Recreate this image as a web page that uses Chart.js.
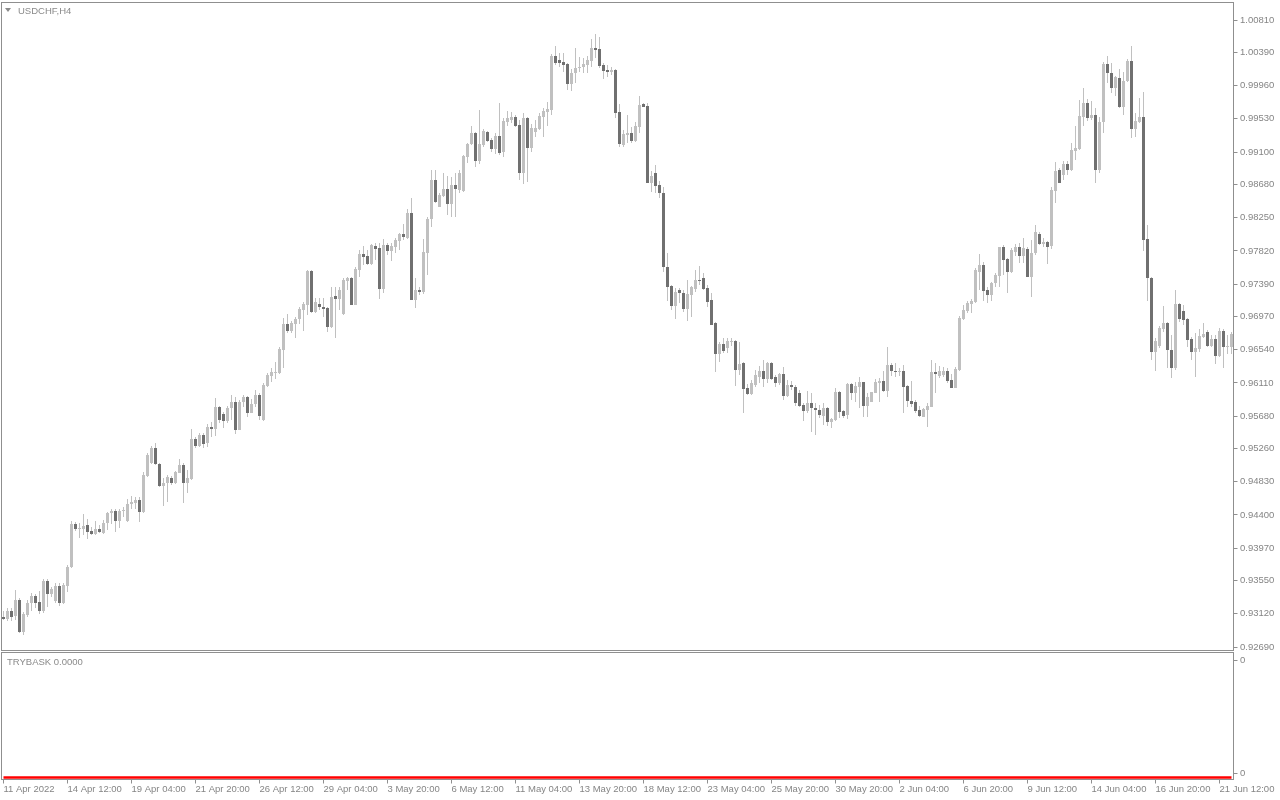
<!DOCTYPE html>
<html>
<head>
<meta charset="utf-8">
<title>USDCHF,H4</title>
<script src="https://cdn.jsdelivr.net/npm/chart.js@4.4.1/dist/chart.umd.min.js"></script>
<style>
  html, body { margin: 0; padding: 0; background: #fff; }
  body { width: 1280px; height: 800px; position: relative; overflow: hidden; font-family: 'Liberation Sans', Arial, sans-serif; }
  canvas { position: absolute; left: 0; }
  #main { top: 0; }
  #sub { top: 651px; }
  .label { position: absolute; color: #8a8a8a; font-size: 9.5px; line-height: 11px; white-space: nowrap; }
  #symbol { left: 18px; top: 4.5px; }
  #indicator { left: 7px; top: 656px; }
  #arrow { position: absolute; left: 5px; top: 8px; width: 0; height: 0;
           border-left: 3px solid transparent; border-right: 3px solid transparent; border-top: 4px solid #8a8a8a; }
</style>
</head>
<body>
<canvas id="main" width="1280" height="651"></canvas>
<canvas id="sub" width="1280" height="149"></canvas>
<div id="arrow"></div>
<div class="label" id="symbol">USDCHF,H4</div>
<div class="label" id="indicator">TRYBASK 0.0000</div>
<script>
// USDCHF H4 candles, 11 Apr 2022 .. 21 Jun 2022
const openPrices = [
  0.93078, 0.93052, 0.93156, 0.93091, 0.93299, 0.92884, 0.93104, 0.93260, 0.93350, 0.93273,
  0.93156, 0.93545, 0.93376, 0.93286, 0.93480, 0.93260, 0.93480, 0.93726, 0.94283, 0.94218,
  0.94218, 0.94270, 0.94192, 0.94153, 0.94218, 0.94166, 0.94296, 0.94425, 0.94451, 0.94322,
  0.94451, 0.94322, 0.94542, 0.94555, 0.94594, 0.94438, 0.94904, 0.95073, 0.95267, 0.95060,
  0.94775, 0.94814, 0.94878, 0.94814, 0.94943, 0.95047, 0.94814, 0.94865, 0.95383, 0.95293,
  0.95435, 0.95332, 0.95539, 0.95513, 0.95798, 0.95707, 0.95617, 0.95785, 0.95863, 0.95500,
  0.95863, 0.95927, 0.95720, 0.95837, 0.95953, 0.95630, 0.96070, 0.96199, 0.96238, 0.96238,
  0.96536, 0.96873, 0.96782, 0.96873, 0.96938, 0.97054, 0.97119, 0.97559, 0.97028, 0.97132,
  0.97093, 0.97080, 0.96834, 0.97236, 0.97197, 0.97002, 0.97430, 0.97469, 0.97119, 0.97572,
  0.97779, 0.97754, 0.97650, 0.97883, 0.97857, 0.97326, 0.97896, 0.97818, 0.97870, 0.97948,
  0.98038, 0.97987, 0.98310, 0.97184, 0.97313, 0.97287, 0.97792, 0.98233, 0.98738, 0.98388,
  0.98530, 0.98621, 0.98427, 0.98673, 0.98608, 0.98595, 0.99035, 0.99204, 0.99346, 0.98984,
  0.99191, 0.99359, 0.99256, 0.99139, 0.99308, 0.99100, 0.99489, 0.99515, 0.99554, 0.99450,
  0.98828, 0.99541, 0.99152, 0.99359, 0.99398, 0.99554, 0.99618, 0.99644, 1.00344, 1.00292,
  1.00266, 1.00240, 0.99981, 1.00123, 1.00188, 1.00201, 1.00227, 1.00279, 1.00447, 1.00434,
  1.00227, 1.00162, 1.00136, 1.00162, 0.99618, 0.99191, 0.99320, 0.99346, 0.99243, 0.99424,
  0.99722, 0.99696, 0.98699, 0.98828, 0.98673, 0.98569, 0.97611, 0.97365, 0.97106, 0.97313,
  0.97274, 0.97067, 0.97249, 0.97326, 0.97443, 0.97469, 0.97339, 0.97184, 0.96886, 0.96484,
  0.96614, 0.96562, 0.96640, 0.96653, 0.96277, 0.96368, 0.96044, 0.95966, 0.96083, 0.96186,
  0.96264, 0.96161, 0.96368, 0.96186, 0.96109, 0.96225, 0.95940, 0.96083, 0.96057, 0.95979,
  0.95824, 0.95746, 0.95850, 0.95785, 0.95759, 0.95681, 0.95785, 0.95604, 0.95630, 0.95992,
  0.95746, 0.95694, 0.96096, 0.95979, 0.96057, 0.96122, 0.95811, 0.95863, 0.95979, 0.96109,
  0.96135, 0.96005, 0.96342, 0.96264, 0.96251, 0.96264, 0.96070, 0.95876, 0.95863, 0.95759,
  0.95669, 0.95759, 0.95798, 0.96251, 0.96199, 0.96212, 0.96264, 0.96148, 0.96044, 0.96277,
  0.96938, 0.97041, 0.97132, 0.97158, 0.97546, 0.97637, 0.97313, 0.97249, 0.97404, 0.97494,
  0.97870, 0.97715, 0.97546, 0.97805, 0.97870, 0.97754, 0.97844, 0.97482, 0.97792, 0.98038,
  0.97909, 0.97935, 0.97883, 0.98595, 0.98867, 0.98802, 0.98945, 0.98867, 0.99113, 0.99139,
  0.99554, 0.99735, 0.99541, 0.99580, 0.98867, 0.99489, 1.00240, 1.00123, 0.99929, 1.00059,
  0.99683, 1.00020, 1.00279, 0.99398, 0.99489, 0.99554, 0.97974, 0.97469, 0.96510, 0.96588,
  0.96808, 0.96886, 0.96536, 0.96303, 0.97132, 0.97041, 0.96938, 0.96679, 0.96510, 0.96549,
  0.96704, 0.96769, 0.96588, 0.96679, 0.96458, 0.96782, 0.96575, 0.96575
];
const highPrices = [
  0.93156, 0.93195, 0.93195, 0.93428, 0.93324, 0.93143, 0.93299, 0.93389, 0.93376, 0.93415,
  0.93570, 0.93570, 0.93467, 0.93519, 0.93519, 0.93519, 0.93752, 0.94322, 0.94309, 0.94296,
  0.94412, 0.94347, 0.94244, 0.94322, 0.94270, 0.94335, 0.94438, 0.94477, 0.94477, 0.94477,
  0.94503, 0.94606, 0.94645, 0.94632, 0.94632, 0.94956, 0.95202, 0.95293, 0.95332, 0.95073,
  0.94878, 0.94917, 0.94904, 0.94969, 0.95124, 0.95073, 0.94982, 0.95513, 0.95409, 0.95461,
  0.95461, 0.95578, 0.95604, 0.95914, 0.95811, 0.95733, 0.95811, 0.95953, 0.95927, 0.95889,
  0.95953, 0.95940, 0.95901, 0.96018, 0.95979, 0.96109, 0.96238, 0.96303, 0.96381, 0.96575,
  0.96951, 0.97002, 0.96912, 0.96964, 0.97093, 0.97158, 0.97572, 0.97572, 0.97210, 0.97210,
  0.97210, 0.97093, 0.97352, 0.97352, 0.97352, 0.97469, 0.97482, 0.97482, 0.97611, 0.97831,
  0.97883, 0.97831, 0.97909, 0.97922, 0.97922, 0.97974, 0.97922, 0.97922, 0.97987, 0.98051,
  0.98168, 0.98362, 0.98505, 0.97469, 0.97352, 0.97974, 0.98259, 0.98867, 0.98867, 0.98569,
  0.98828, 0.98789, 0.98776, 0.98828, 0.98867, 0.99061, 0.99217, 0.99437, 0.99359, 0.99644,
  0.99398, 0.99372, 0.99282, 0.99346, 0.99735, 0.99541, 0.99631, 0.99618, 0.99580, 0.99515,
  0.99605, 0.99554, 0.99463, 0.99515, 0.99605, 0.99670, 0.99748, 1.00370, 1.00473, 1.00383,
  1.00383, 1.00253, 1.00175, 1.00447, 1.00330, 1.00318, 1.00344, 1.00564, 1.00629, 1.00590,
  1.00253, 1.00227, 1.00201, 1.00175, 0.99722, 0.99385, 0.99580, 0.99424, 0.99489, 0.99826,
  0.99735, 0.99735, 0.98854, 0.98932, 0.98725, 0.98647, 0.97792, 0.97378, 0.97339, 0.97339,
  0.97313, 0.97443, 0.97365, 0.97572, 0.97624, 0.97533, 0.97378, 0.97274, 0.96899, 0.96640,
  0.96691, 0.96691, 0.96691, 0.96666, 0.96640, 0.96381, 0.96096, 0.96148, 0.96277, 0.96329,
  0.96407, 0.96381, 0.96381, 0.96212, 0.96238, 0.96316, 0.96148, 0.96135, 0.96083, 0.96018,
  0.95850, 0.96005, 0.95979, 0.95850, 0.95824, 0.95850, 0.95798, 0.95656, 0.96044, 0.96005,
  0.95759, 0.96109, 0.96109, 0.96122, 0.96186, 0.96122, 0.95979, 0.95992, 0.96161, 0.96174,
  0.96264, 0.96575, 0.96368, 0.96368, 0.96303, 0.96342, 0.96083, 0.96135, 0.95889, 0.95811,
  0.95785, 0.95850, 0.96407, 0.96368, 0.96329, 0.96316, 0.96303, 0.96225, 0.96316, 0.96977,
  0.97119, 0.97171, 0.97197, 0.97598, 0.97779, 0.97676, 0.97352, 0.97417, 0.97533, 0.97870,
  0.97896, 0.97728, 0.97857, 0.97909, 0.97922, 0.97987, 0.97870, 0.97961, 0.98155, 0.98064,
  0.97987, 0.97948, 0.98647, 0.98971, 0.98893, 0.98984, 0.98984, 0.99217, 0.99437, 0.99774,
  0.99929, 0.99787, 0.99761, 0.99670, 0.99554, 1.00266, 1.00344, 1.00253, 1.00085, 1.00175,
  1.00136, 1.00305, 1.00473, 0.99605, 0.99800, 0.99877, 0.98155, 0.97482, 0.96691, 0.96847,
  0.97106, 0.96899, 0.96730, 0.97313, 0.97145, 0.97119, 0.96951, 0.96704, 0.96756, 0.96808,
  0.96886, 0.96795, 0.96730, 0.96730, 0.96821, 0.96808, 0.96730, 0.96769
];
const lowPrices = [
  0.93040, 0.93027, 0.93027, 0.93040, 0.92871, 0.92845, 0.93078, 0.93156, 0.93195, 0.93117,
  0.93130, 0.93208, 0.93337, 0.93260, 0.93221, 0.93247, 0.93402, 0.93713, 0.94192, 0.94101,
  0.94140, 0.94088, 0.94140, 0.94140, 0.94166, 0.94153, 0.94205, 0.94283, 0.94179, 0.94231,
  0.94374, 0.94309, 0.94477, 0.94477, 0.94309, 0.94425, 0.94891, 0.95060, 0.95047, 0.94762,
  0.94516, 0.94568, 0.94788, 0.94801, 0.94943, 0.94555, 0.94684, 0.94853, 0.95267, 0.95280,
  0.95267, 0.95280, 0.95409, 0.95422, 0.95591, 0.95526, 0.95591, 0.95630, 0.95448, 0.95500,
  0.95798, 0.95669, 0.95720, 0.95798, 0.95630, 0.95617, 0.96057, 0.96122, 0.96161, 0.96225,
  0.96303, 0.96756, 0.96756, 0.96691, 0.96873, 0.96782, 0.96989, 0.97015, 0.97015, 0.97054,
  0.96964, 0.96769, 0.96821, 0.96691, 0.97054, 0.96989, 0.97313, 0.97119, 0.97119, 0.97482,
  0.97637, 0.97637, 0.97637, 0.97702, 0.97197, 0.97274, 0.97766, 0.97689, 0.97792, 0.97831,
  0.97961, 0.97974, 0.97184, 0.97080, 0.97249, 0.97262, 0.97507, 0.98129, 0.98440, 0.98388,
  0.98517, 0.98284, 0.98259, 0.98259, 0.98569, 0.98582, 0.98958, 0.99191, 0.98906, 0.98945,
  0.99165, 0.99230, 0.99100, 0.99074, 0.99061, 0.99035, 0.99437, 0.99476, 0.99424, 0.98738,
  0.98686, 0.98712, 0.99100, 0.99295, 0.99385, 0.99295, 0.99437, 0.99580, 1.00227, 1.00201,
  1.00136, 0.99903, 0.99890, 0.99994, 1.00136, 1.00123, 1.00123, 1.00201, 1.00318, 1.00188,
  1.00046, 1.00071, 1.00097, 0.99541, 0.99165, 0.99165, 0.99217, 0.99217, 0.99230, 0.99346,
  0.99683, 0.98699, 0.98582, 0.98569, 0.98505, 0.97546, 0.97171, 0.97054, 0.96938, 0.97145,
  0.97028, 0.96912, 0.96964, 0.97287, 0.97378, 0.97313, 0.97093, 0.96860, 0.96251, 0.96381,
  0.96497, 0.96497, 0.96588, 0.96070, 0.96212, 0.95720, 0.95953, 0.95953, 0.96057, 0.96109,
  0.96057, 0.96109, 0.96148, 0.96057, 0.96083, 0.95889, 0.95927, 0.96018, 0.95811, 0.95798,
  0.95617, 0.95720, 0.95474, 0.95435, 0.95656, 0.95565, 0.95552, 0.95526, 0.95617, 0.95656,
  0.95656, 0.95643, 0.95889, 0.95863, 0.95785, 0.95669, 0.95669, 0.95863, 0.95979, 0.95863,
  0.95992, 0.95927, 0.96199, 0.96186, 0.96199, 0.95720, 0.95798, 0.95798, 0.95720, 0.95669,
  0.95669, 0.95539, 0.95798, 0.95979, 0.96174, 0.96186, 0.96109, 0.96044, 0.96044, 0.96264,
  0.96925, 0.97015, 0.97015, 0.97145, 0.97313, 0.97171, 0.97145, 0.97171, 0.97352, 0.97352,
  0.97507, 0.97274, 0.97533, 0.97754, 0.97663, 0.97663, 0.97482, 0.97223, 0.97766, 0.97896,
  0.97870, 0.97650, 0.97844, 0.98440, 0.98699, 0.98738, 0.98802, 0.98854, 0.98997, 0.99126,
  0.99437, 0.99502, 0.99515, 0.98699, 0.98828, 0.99346, 0.99994, 0.99864, 0.99826, 0.99670,
  0.99580, 1.00007, 0.99282, 0.99295, 0.99476, 0.97818, 0.97171, 0.96407, 0.96264, 0.96562,
  0.96769, 0.96303, 0.96174, 0.96277, 0.96899, 0.96860, 0.96575, 0.96407, 0.96186, 0.96510,
  0.96691, 0.96575, 0.96575, 0.96355, 0.96445, 0.96303, 0.96484, 0.96484
];
const closePrices = [
  0.93052, 0.93156, 0.93078, 0.93299, 0.92884, 0.93117, 0.93260, 0.93350, 0.93260, 0.93156,
  0.93545, 0.93376, 0.93441, 0.93480, 0.93260, 0.93493, 0.93726, 0.94283, 0.94218, 0.94231,
  0.94257, 0.94179, 0.94153, 0.94218, 0.94179, 0.94296, 0.94425, 0.94451, 0.94322, 0.94451,
  0.94464, 0.94542, 0.94568, 0.94594, 0.94438, 0.94917, 0.95176, 0.95267, 0.95060, 0.94775,
  0.94814, 0.94891, 0.94814, 0.94956, 0.95047, 0.94814, 0.94878, 0.95383, 0.95293, 0.95435,
  0.95319, 0.95539, 0.95513, 0.95798, 0.95630, 0.95617, 0.95785, 0.95863, 0.95500, 0.95863,
  0.95927, 0.95720, 0.95837, 0.95953, 0.95681, 0.96083, 0.96212, 0.96251, 0.96251, 0.96549,
  0.96873, 0.96782, 0.96886, 0.96938, 0.97067, 0.97132, 0.97559, 0.97028, 0.97158, 0.97093,
  0.97067, 0.96834, 0.97223, 0.97197, 0.97313, 0.97443, 0.97469, 0.97119, 0.97585, 0.97779,
  0.97741, 0.97650, 0.97896, 0.97844, 0.97326, 0.97896, 0.97818, 0.97883, 0.97961, 0.98038,
  0.97999, 0.98310, 0.97184, 0.97313, 0.97287, 0.97805, 0.98233, 0.98738, 0.98453, 0.98543,
  0.98621, 0.98427, 0.98673, 0.98621, 0.98828, 0.99048, 0.99204, 0.99346, 0.98984, 0.99204,
  0.99372, 0.99243, 0.99139, 0.99308, 0.99087, 0.99502, 0.99541, 0.99554, 0.99437, 0.98828,
  0.99541, 0.99152, 0.99411, 0.99411, 0.99567, 0.99631, 0.99657, 1.00344, 1.00253, 1.00253,
  1.00227, 0.99981, 1.00123, 1.00188, 1.00201, 1.00240, 1.00292, 1.00447, 1.00421, 1.00214,
  1.00149, 1.00136, 1.00162, 0.99605, 0.99204, 0.99333, 0.99346, 0.99243, 0.99437, 0.99709,
  0.99683, 0.98699, 0.98790, 0.98660, 0.98569, 0.97611, 0.97352, 0.97106, 0.97287, 0.97274,
  0.97067, 0.97262, 0.97352, 0.97443, 0.97430, 0.97326, 0.97158, 0.96860, 0.96484, 0.96614,
  0.96523, 0.96653, 0.96653, 0.96277, 0.96355, 0.96031, 0.95966, 0.96109, 0.96212, 0.96264,
  0.96161, 0.96368, 0.96161, 0.96109, 0.96225, 0.95940, 0.96083, 0.96057, 0.95850, 0.95811,
  0.95746, 0.95850, 0.95785, 0.95759, 0.95694, 0.95785, 0.95604, 0.95643, 0.95992, 0.95733,
  0.95681, 0.96096, 0.95979, 0.96070, 0.96122, 0.95811, 0.95927, 0.95992, 0.96122, 0.96135,
  0.96005, 0.96342, 0.96264, 0.96251, 0.96264, 0.96057, 0.95876, 0.95837, 0.95746, 0.95681,
  0.95772, 0.95811, 0.96251, 0.96225, 0.96264, 0.96264, 0.96135, 0.96044, 0.96290, 0.96951,
  0.97054, 0.97145, 0.97171, 0.97572, 0.97637, 0.97300, 0.97249, 0.97404, 0.97507, 0.97870,
  0.97702, 0.97546, 0.97831, 0.97870, 0.97754, 0.97857, 0.97482, 0.97792, 0.98064, 0.97909,
  0.97935, 0.97870, 0.98608, 0.98854, 0.98699, 0.98945, 0.98867, 0.99126, 0.99152, 0.99567,
  0.99735, 0.99541, 0.99580, 0.98867, 0.99489, 1.00240, 1.00123, 0.99929, 1.00072, 0.99683,
  1.00020, 1.00279, 0.99398, 0.99502, 0.99554, 0.97961, 0.97469, 0.96510, 0.96653, 0.96821,
  0.96886, 0.96536, 0.96303, 0.97132, 0.96938, 0.96925, 0.96666, 0.96510, 0.96562, 0.96717,
  0.96743, 0.96588, 0.96679, 0.96458, 0.96782, 0.96575, 0.96588, 0.96743
];
// TRYBASK indicator pane: flat at zero over every bar
const trybask = [
  0,0,0,0, 0,0,0,0, 0,0,0,0, 0,0,0,0, 0,0,0,0, 0,0,0,0, 0,0,0,0,
  0,0,0,0, 0,0,0,0, 0,0,0,0, 0,0,0,0, 0,0,0,0, 0,0,0,0, 0,0,0,0,
  0,0,0,0, 0,0,0,0, 0,0,0,0, 0,0,0,0, 0,0,0,0, 0,0,0,0, 0,0,0,0,
  0,0,0,0, 0,0,0,0, 0,0,0,0, 0,0,0,0, 0,0,0,0, 0,0,0,0, 0,0,0,0,
  0,0,0,0, 0,0,0,0, 0,0,0,0, 0,0,0,0, 0,0,0,0, 0,0,0,0, 0,0,0,0,
  0,0,0,0, 0,0,0,0, 0,0,0,0, 0,0,0,0, 0,0,0,0, 0,0,0,0, 0,0,0,0,
  0,0,0,0, 0,0,0,0, 0,0,0,0, 0,0,0,0, 0,0,0,0, 0,0,0,0, 0,0,0,0,
  0,0,0,0, 0,0,0,0, 0,0,0,0, 0,0,0,0, 0,0,0,0, 0,0,0,0, 0,0,0,0,
  0,0,0,0, 0,0,0,0, 0,0,0,0, 0,0,0,0, 0,0,0,0, 0,0,0,0, 0,0,0,0,
  0,0,0,0, 0,0,0,0, 0,0,0,0, 0,0,0,0, 0,0,0,0, 0,0,0,0, 0,0,0,0,
  0,0,0,0, 0,0,0,0, 0,0,0,0, 0,0,0,0, 0,0,0,0, 0,0,0,0, 0,0,0,0
];
const priceTicks = [1.00810, 1.00390, 0.99960, 0.99530, 0.99100, 0.98680, 0.98250, 0.97820, 0.97390, 0.96970,
                    0.96540, 0.96110, 0.95680, 0.95260, 0.94830, 0.94400, 0.93970, 0.93550, 0.93120, 0.92690];
const timeLabels = ['11 Apr 2022', '14 Apr 12:00', '19 Apr 04:00', '21 Apr 20:00', '26 Apr 12:00',
                    '29 Apr 04:00', '3 May 20:00', '6 May 12:00', '11 May 04:00', '13 May 20:00',
                    '18 May 12:00', '23 May 04:00', '25 May 20:00', '30 May 20:00', '2 Jun 04:00',
                    '6 Jun 20:00', '9 Jun 12:00', '14 Jun 04:00', '16 Jun 20:00', '21 Jun 12:00'];
const barsPerLabel = 16;

const bullColor = '#c0c0c0';
const bearColor = '#707070';
const wickColor = '#c0c0c0';
const frameColor = '#8f8f8f';
const textColor = '#858585';
const axisFont = { family: "'Liberation Sans', Arial, sans-serif", size: 9.5 };

const barLabels = openPrices.map((_, i) => i);
const bodies = openPrices.map((o, i) => [o, closePrices[i]]);
const wicks = lowPrices.map((l, i) => [l, highPrices[i]]);
const bodyColors = openPrices.map((o, i) => closePrices[i] >= o ? bullColor : bearColor);

// frame around each pane's plot area
const paneFrame = {
    id: 'paneFrame',
    afterDraw(chart) {
        const { ctx, chartArea: a } = chart;
        ctx.save();
        ctx.strokeStyle = frameColor;
        ctx.lineWidth = 1;
        ctx.strokeRect(a.left, a.top, a.right - a.left, a.bottom - a.top);
        ctx.restore();
    }
};

// no label overhang padding, the panes sit flush like the terminal does
const noOverhang = s => {
    s.paddingTop = 0; s.paddingBottom = 0; s.paddingLeft = 0; s.paddingRight = 0;
};

const rightAxis = (extra) => Object.assign({
    position: 'right',
    afterFit: s => { s.width = 46.5; noOverhang(s); },
    grid: { display: true, drawOnChartArea: false, drawTicks: true, tickLength: 4, color: frameColor },
    border: { display: false },
}, extra);

// price pane
new Chart(document.getElementById('main'), {
    type: 'bar',
    data: {
        labels: barLabels,
        datasets: [
            { data: bodies, backgroundColor: bodyColors, barThickness: 3, minBarLength: 1,
              grouped: false, inflateAmount: 0, borderWidth: 0 },
            { data: wicks, backgroundColor: wickColor, barThickness: 1,
              grouped: false, inflateAmount: 0, borderWidth: 0 }
        ]
    },
    options: {
        responsive: false,
        animation: false,
        devicePixelRatio: 1,
        events: [],
        layout: { padding: { left: 1.5, top: 2.5, right: 0, bottom: 0.5 } },
        plugins: { legend: { display: false }, tooltip: { enabled: false } },
        scales: {
            x: { type: 'category', display: false, offset: true },
            y: rightAxis({
                min: 0.92645,
                max: 1.01037,
                beginAtZero: false,
                afterBuildTicks: s => { s.ticks = priceTicks.map(v => ({ value: v })); },
                ticks: { autoSkip: false, padding: 2.5, color: textColor, font: axisFont,
                         callback: v => v.toFixed(5) }
            })
        }
    },
    plugins: [paneFrame]
});

// indicator pane with the time axis
new Chart(document.getElementById('sub'), {
    type: 'line',
    data: {
        labels: barLabels,
        datasets: [{ data: trybask, borderColor: '#ff0000', borderWidth: 2.5, pointRadius: 0, clip: false }]
    },
    options: {
        responsive: false,
        animation: false,
        devicePixelRatio: 1,
        events: [],
        layout: { padding: { left: 1.5, top: 1.5, right: 0, bottom: 0 } },
        plugins: { legend: { display: false }, tooltip: { enabled: false } },
        scales: {
            x: {
                type: 'category',
                offset: true,
                afterFit: s => { s.height = 20.5; noOverhang(s); },
                grid: { display: true, offset: false, drawOnChartArea: false, drawTicks: true, tickLength: 4,
                        color: c => c.index % barsPerLabel === 0 ? frameColor : 'rgba(0,0,0,0)' },
                border: { display: false },
                ticks: { autoSkip: false, maxRotation: 0, minRotation: 0, align: 'start', padding: 0,
                         color: textColor, font: axisFont,
                         callback: (v, i) => i % barsPerLabel === 0 ? timeLabels[i / barsPerLabel] : '' }
            },
            y: rightAxis({
                min: -0.016,
                max: 1,
                afterBuildTicks: s => { s.ticks = [{ value: 0.934 }, { value: 0.034 }]; },
                ticks: { autoSkip: false, padding: 2.5, color: textColor, font: axisFont,
                         callback: () => trybask[0].toFixed(0) }
            })
        }
    },
    plugins: [paneFrame]
});
</script>
</body>
</html>
